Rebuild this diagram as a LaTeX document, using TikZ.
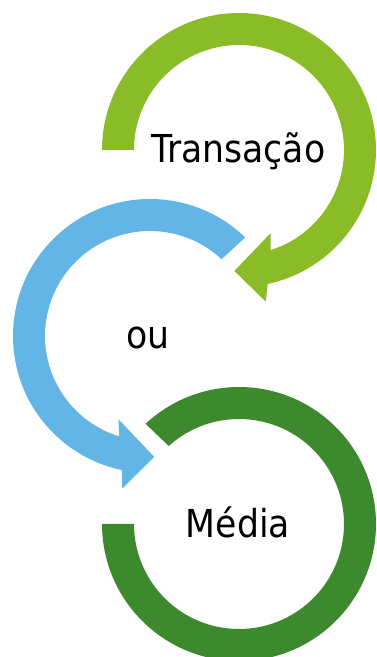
\documentclass[tikz,border=0pt]{standalone}
\usepackage{fontspec}
\setmainfont{DejaVu Sans Condensed}
\definecolor{limegreen}{RGB}{138,188,39}
\definecolor{skyblue}{RGB}{99,181,229}
\definecolor{leafgreen}{RGB}{61,137,46}
\tikzset{steplabel/.style={anchor=base,inner sep=0pt,font=\fontsize{38.5}{46}\selectfont}}

\begin{document}
\begin{tikzpicture}[x=1pt,y=1pt]
        \useasboundingbox (0,0) rectangle (377,657);
        \coordinate (c1) at (239,507);
        \coordinate (c2) at (150,321);
        \coordinate (c3) at (239,133);
        \fill[limegreen,shift={(c1)}] (180:137) arc[start angle=180,end angle=-77.9,radius=137]
            -- (-80:154) -- (-92.2:121) -- (-69.2:89) -- (-72.4:105)
            arc[start angle=-72.4,end angle=180,radius=105] -- cycle;
        \fill[skyblue,shift={(c2)}] (46:137) arc[start angle=46,end angle=258.1,radius=137]
            -- (259.7:155) -- (272:121) -- (249.3:89) -- (252.9:105)
            arc[start angle=252.9,end angle=47,radius=105] -- cycle;
        \fill[leafgreen,shift={(c3)}] (180:137) arc[start angle=180,end angle=493,radius=137]
            -- (492:105) arc[start angle=492,end angle=180,radius=105] -- cycle;
        \node[steplabel] (transacao) at (238.5,494) {Transação};
        \node[steplabel] (ou) at (148,308) {ou};
        \node[steplabel] (media) at (238,119) {Média};
    \end{tikzpicture}
\end{document}
